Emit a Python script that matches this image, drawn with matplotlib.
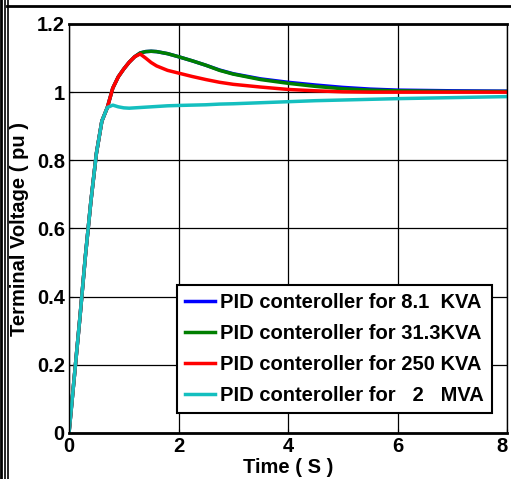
import matplotlib
matplotlib.use("Agg")
import matplotlib.pyplot as plt
import matplotlib.transforms as mtransforms
from matplotlib.lines import Line2D

# %%
time_s = [0, 0.1, 0.2, 0.3, 0.4, 0.5, 0.6, 0.7, 0.8, 0.9, 1.0, 1.1, 1.2, 1.3, 1.4, 1.5,
          1.6, 1.8, 2.0, 2.25, 2.5, 2.75, 3.0, 3.5, 4.0, 4.5, 5.0, 5.5, 6.0, 7.0, 8.0]

v_8_1kva = [0, 0.17, 0.34, 0.52, 0.68, 0.82, 0.915, 0.955, 1.012, 1.045, 1.068, 1.088, 1.104, 1.115,
            1.119, 1.12, 1.119, 1.113, 1.104, 1.092, 1.079, 1.065, 1.054, 1.039, 1.029, 1.021,
            1.014, 1.009, 1.006, 1.004, 1.003]
v_31_3kva = [0, 0.17, 0.34, 0.52, 0.68, 0.82, 0.915, 0.955, 1.012, 1.045, 1.068, 1.088, 1.104, 1.115,
             1.119, 1.12, 1.119, 1.113, 1.104, 1.092, 1.079, 1.064, 1.053, 1.037, 1.026, 1.017,
             1.01, 1.006, 1.004, 1.002, 1.002]
v_250kva = [0, 0.17, 0.34, 0.52, 0.68, 0.82, 0.915, 0.955, 1.012, 1.045, 1.068, 1.088, 1.104, 1.112,
            1.1, 1.087, 1.077, 1.064, 1.056, 1.046, 1.037, 1.029, 1.023, 1.015, 1.008, 1.004,
            1.001, 1.0, 1.0, 1.0, 1.0]
v_2mva = [0, 0.17, 0.34, 0.52, 0.68, 0.82, 0.915, 0.955, 0.962, 0.957, 0.954, 0.953, 0.954, 0.955,
          0.956, 0.957, 0.958, 0.96, 0.961, 0.962, 0.963, 0.965, 0.966, 0.969, 0.972, 0.975,
          0.977, 0.979, 0.981, 0.984, 0.987]

labels = ["PID conteroller for 8.1  KVA", "PID conteroller for 31.3KVA",
          "PID conteroller for 250 KVA", "PID conteroller for   2   MVA"]
colors = ["#0000ff", "#007f00", "#ff0000", "#14bfbf"]

x_ticks = [0, 2, 4, 6, 8]
y_ticks = [0, 0.2, 0.4, 0.6, 0.8, 1.0, 1.2]
y_tick_labels = ["0", "0.2", "0.4", "0.6", "0.8", "1", "1.2"]

# %%
plt.rcParams["font.family"] = ["Liberation Sans", "DejaVu Sans"]
plt.rcParams["font.weight"] = "bold"

fig = plt.figure(figsize=(5.11, 4.79), dpi=100)
ax = fig.add_axes([69 / 511, 46 / 479, 438 / 511, 409 / 479])

for series, color, label in zip([v_8_1kva, v_31_3kva, v_250kva, v_2mva], colors, labels):
    ax.plot(time_s, series, color=color, lw=2.5, label=label)

ax.set_xlim(0, 8)
ax.set_ylim(0, 1.2)
ax.set_xticks(x_ticks)
ax.set_yticks(y_ticks)
ax.set_yticklabels(y_tick_labels)
ax.tick_params(direction="in", length=3, labelsize=14.5, pad=3)
ax.grid(True, color="black", lw=0.9)

# last x label sits at the figure edge, nudge it in a bit
last_label = ax.get_xticklabels()[-1]
last_label.set_transform(last_label.get_transform()
                         + mtransforms.ScaledTranslation(-5 / 100, 0, fig.dpi_scale_trans))

for side in ["top", "bottom"]:
    ax.spines[side].set_linewidth(2)
for side in ["left", "right"]:
    ax.spines[side].set_linewidth(1)

ax.set_xlabel("Time ( S )", fontsize=14.5, fontweight="bold")
ax.set_ylabel("Terminal Voltage ( pu )", fontsize=14.5, fontweight="bold")
ax.xaxis.set_label_coords(0.5, -0.06)
ax.yaxis.set_label_coords(-0.092, 0.5)

leg = ax.legend(loc="lower right", bbox_to_anchor=(0.966, 0.049), borderaxespad=0,
                fontsize=14.5, fancybox=False, framealpha=1, edgecolor="black",
                handlelength=1.5, handletextpad=0.25, labelspacing=0.6, borderpad=0.4)
leg.get_frame().set_linewidth(1.5)

# page frame lines
for xp, lw in [(1, 2), (4.5, 1.2), (7.5, 1.2)]:
    fig.add_artist(Line2D([xp / 511, xp / 511], [0, 1], color="black", lw=lw))
fig.add_artist(Line2D([7 / 511, 1], [1 - 6 / 479, 1 - 6 / 479], color="black", lw=2))

fig.savefig("out.png", dpi=100)
